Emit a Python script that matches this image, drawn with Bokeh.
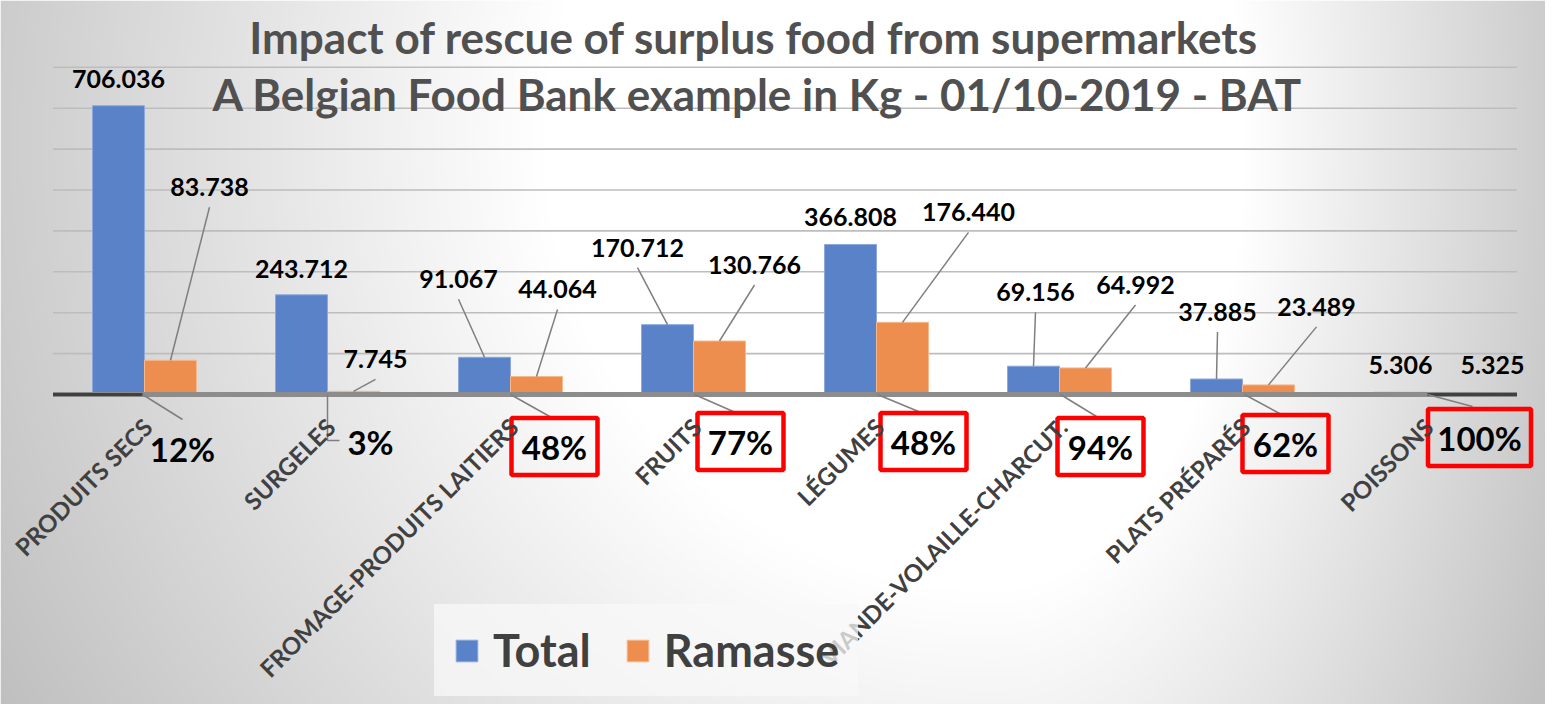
import numpy as np
from bokeh.plotting import figure
from bokeh.models import Range1d, Legend, LegendItem
from bokeh.core.properties import value
from bokeh.embed import file_html
from bokeh.resources import INLINE

# ---------------- data ----------------
categories = ["PRODUITS SECS", "SURGELES", "FROMAGE-PRODUITS LAITIERS", "FRUITS",
              "LÉGUMES", "VIANDE-VOLAILLE-CHARCUT.", "PLATS PRÉPARÉS", "POISSONS"]
total = [706.036, 243.712, 91.067, 170.712, 366.808, 69.156, 37.885, 5.306]
ramasse = [83.738, 7.745, 44.064, 130.766, 176.440, 64.992, 23.489, 5.325]
series_names = ["Total", "Ramasse"]
title_lines = ["Impact of rescue of surplus food from supermarkets",
               "A Belgian Food Bank example in Kg - 01/10-2019 - BAT"]
grid_values = [100, 200, 300, 400, 500, 600, 700, 800]

# ---------------- layout / style ----------------
W, H = 1545, 704
SX = 183.0          # px per category
SY = 0.409          # px per unit
X_LEFT_PX = 144     # frame-left to first category centre
BASE_PX = 394       # frame-top to baseline
X0 = -X_LEFT_PX / SX
X1 = X0 + W / SX
Y1 = BASE_PX / SY
Y0 = Y1 - H / SY

def ox(px):
    return px / SX

def oy(px):  # screen px (down positive) -> data offset
    return -px / SY

BLUE, ORANGE = "#5a82c8", "#ee8e4e"
FONT = value("Lato")
n = len(categories)
xi = np.arange(n, dtype=float)
BAR_W = 52
bx_t = xi - ox(BAR_W / 2)
bx_r = xi + ox(BAR_W / 2)

# label offsets from bar top centre (px, screen down positive)
total_lbl_off = [(0, -27), (0, -26), (-26, -78), (-30, -77), (0, -27), (2, -74), (1, -67), (1, -27)]
total_leader = [False, False, True, True, False, True, True, False]
ram_lbl_off = [(39, -173), (22, -32), (21, -87), (35, -76), (66, -110), (50, -83), (48, -78), (41, -27)]
ram_leader = [True, True, True, True, True, True, True, False]
# percent label offsets from (category centre, baseline)
pct_off = [(38, 54), (43, 47), (44, 52), (47, 47), (47, 47), (41, 52), (43, 49), (54, 43)]
pct_boxed = [False, False, True, True, True, True, True, True]
pct_leader = [[(-2, 0), (38, 25)], [(0, 0), (0, 46), (12, 46)], [(0, 0), (41, 23)], [(1, 0), (42, 18)],
              [(1, 0), (42, 17)], [(1, 0), (37, 22)], [(2, 0), (39, 20)], [(2, 0), (47, 12)]]
CAT_OFF = (3, 28)

p = figure(width=W, height=H, x_range=Range1d(X0, X1), y_range=Range1d(Y0, Y1),
           output_backend="svg", toolbar_location=None, min_border=0,
           x_axis_location=None, y_axis_location=None)
p.grid.visible = False
p.outline_line_color = None

# background gradient
GW, GH = W // 2, H // 2
gx = (np.arange(GW) + 0.5) * 2 + 8
gy = (np.arange(GH) + 0.5) * 2 + 8
GX, GY = np.meshgrid(gx, gy)
cx, cy = 1000.0, 150.0
sxs = np.where(GX < cx, 1000.0, 560.0)
d = np.sqrt(((GX - cx) / sxs) ** 2 + ((GY - cy) / 1000.0) ** 2)
g = np.clip(255 - 92 * np.clip(d - 0.45, 0, None), 0, 255).astype(np.uint8)
img = np.empty((GH, GW), dtype=np.uint32)
view = img.view(dtype=np.uint8).reshape((GH, GW, 4))
view[..., 0] = g
view[..., 1] = g
view[..., 2] = g
view[..., 3] = 255
img = np.ascontiguousarray(img[::-1])
p.image_rgba(image=[img], x=X0, y=Y0, dw=X1 - X0, dh=Y1 - Y0)

# gridlines
p.segment(x0=[-0.5] * len(grid_values), x1=[n - 0.5] * len(grid_values),
          y0=grid_values, y1=grid_values, line_color="#bdbdbd", line_width=1.6)

# title
for t, mid, cxp in zip(title_lines, [36.5, 93.5], [753.5, 757]):
    p.text(x=[X0 + ox(cxp)], y=[Y1 + oy(mid)], text=[t], text_font=FONT, text_font_size="44px",
           text_font_style="bold", text_color="#505050", text_align="center",
           text_baseline="middle")

# bars
r_t = p.vbar(x=bx_t, top=total, width=ox(BAR_W), fill_color=BLUE, line_color="#8ca8dc", line_width=1)
r_r = p.vbar(x=bx_r, top=ramasse, width=ox(BAR_W), fill_color=ORANGE, line_color="#f6b98e", line_width=1)

# axis line
p.segment(x0=[-0.5], x1=[n - 0.5], y0=[0], y1=[0], line_color="#8c8c8c", line_width=5)
p.segment(x0=[-0.5, n - 1 + ox(2)], x1=[ox(-2), n - 0.5], y0=[0, 0], y1=[0, 0],
          line_color="#404040", line_width=3)

# value labels + leaders
def add_labels(bx, vals, offs, leaders):
    lx = [b + ox(o[0]) for b, o in zip(bx, offs)]
    ly = [v + oy(o[1]) for v, o in zip(vals, offs)]
    x0s, y0s, x1s, y1s = [], [], [], []
    for j in range(len(vals)):
        if leaders[j]:
            x0s.append(lx[j]); y0s.append(ly[j] + oy(20)); x1s.append(bx[j]); y1s.append(vals[j])
    p.segment(x0=x0s, y0=y0s, x1=x1s, y1=y1s, line_color="#7f7f7f", line_width=1.5)
    p.text(x=lx, y=ly, text=[f"{v:.3f}" for v in vals], text_font=FONT, text_font_size="25px",
           text_font_style="bold", text_color="black", text_align="center", text_baseline="middle")

add_labels(list(bx_t), total, total_lbl_off, total_leader)
add_labels(list(bx_r), ramasse, ram_lbl_off, ram_leader)

# percent labels
pct_txt = [f"{round(r / t * 100)}%" for r, t in zip(ramasse, total)]
px_ = [i + ox(o[0]) for i, o in zip(xi, pct_off)]
py_ = [oy(o[1]) for o in pct_off]
p.multi_line(xs=[[i + ox(a) for a, b in path] for i, path in zip(xi, pct_leader)],
             ys=[[oy(b) for a, b in path] for path in pct_leader],
             line_color="#7f7f7f", line_width=1.5)
bxs = [x for x, b in zip(px_, pct_boxed) if b]
bys = [y for y, b in zip(py_, pct_boxed) if b]
bws = [86 if len(t) <= 3 else 103 for t, b in zip(pct_txt, pct_boxed) if b]
p.rect(x=bxs, y=bys, width=bws, height=[57] * len(bxs), width_units="screen", height_units="screen",
       fill_alpha=0, line_color="#ff0000", line_width=4.5)
p.text(x=px_, y=py_, text=pct_txt, text_font=FONT, text_font_size="33px", text_font_style="bold",
       text_color="black", text_align="center", text_baseline="middle")

# category labels
p.text(x=list(xi + ox(CAT_OFF[0])), y=[oy(CAT_OFF[1])] * n, text=categories, angle=np.pi / 4,
       text_font=FONT, text_font_size="24px", text_font_style="bold", text_color="#404040",
       text_align="right", text_baseline="middle")

legend = Legend(items=[LegendItem(label=series_names[0], renderers=[r_t]),
                       LegendItem(label=series_names[1], renderers=[r_r])],
                location=(434, 8), orientation="horizontal", padding=18, spacing=33,
                label_standoff=13, glyph_width=27, glyph_height=27, margin=0,
                label_text_font="Lato", label_text_font_size="45px", label_text_font_style="bold",
                label_text_color="#404040", background_fill_color="#f8f8f8",
                background_fill_alpha=0.75, border_line_color="#f8f8f8", border_line_alpha=0.01)
p.add_layout(legend)

open("out.html", "w").write(file_html(p, INLINE, title="Impact of rescue of surplus food"))
